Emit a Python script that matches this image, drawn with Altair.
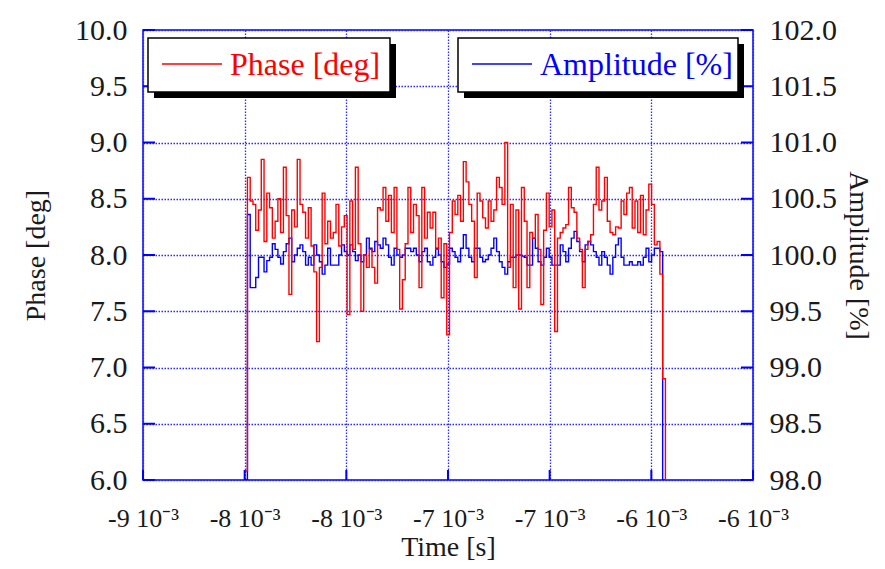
import altair as alt
import pandas as pd

# ---- data ----
phase = [
    6.08, 8.69, 8.48, 8.45, 8.22, 8.40, 8.85, 8.12, 8.55, 8.42,
    8.15, 8.30, 8.50, 8.20, 8.78, 8.35, 7.65, 8.40, 8.25, 8.85,
    8.45, 8.38, 8.15, 8.42, 8.08, 7.85, 7.23, 7.89, 8.55, 8.10,
    8.30, 8.15, 8.20, 8.45, 8.08, 8.25, 8.35, 7.47, 8.48, 8.05,
    8.78, 8.10, 7.50, 8.00, 7.89, 8.05, 7.89, 7.75, 8.42, 8.40,
    8.60, 8.30, 8.53, 8.20, 8.60, 8.05, 7.52, 7.78, 8.10, 8.60,
    8.20, 8.45, 8.35, 7.71, 8.60, 8.15, 8.38, 8.24, 8.38, 8.05,
    8.15, 7.62, 8.10, 7.29, 8.20, 8.48, 8.36, 8.53, 8.30, 8.83,
    8.65, 8.45, 8.30, 7.80, 8.55, 8.48, 8.33, 8.24, 8.48, 8.30,
    8.40, 8.69, 8.60, 8.45, 9.00, 7.89, 8.45, 7.71, 8.40, 7.52,
    8.60, 8.30, 7.71, 8.20, 8.15, 8.36, 8.05, 7.56, 8.22, 8.55,
    8.25, 8.40, 7.32, 8.15, 8.20, 8.24, 8.27, 8.60, 8.42, 8.38,
    8.15, 8.05, 7.71, 8.05, 8.12, 8.18, 8.45, 8.78, 8.40, 8.48,
    8.69, 8.30, 8.20, 8.18, 8.25, 8.24, 8.48, 8.36, 8.55, 8.60,
    8.24, 8.48, 8.20, 8.53, 8.18, 8.40, 8.63, 8.45, 8.09, 8.12,
    7.83, 6.90, 6.00,
]
amplitude = [
    98.00, 100.36, 99.71, 99.71, 99.80, 99.98, 99.98, 99.85, 99.95, 99.98,
    100.10, 100.05, 99.98, 99.92, 100.03, 100.10, 100.15, 99.94, 100.00, 100.06,
    100.09, 100.03, 99.91, 99.98, 99.91, 100.09, 100.00, 99.94, 99.83, 99.91,
    100.06, 99.91, 99.91, 99.91, 100.00, 100.09, 100.03, 100.00, 100.09, 100.03,
    99.95, 100.00, 99.94, 100.00, 100.15, 100.06, 100.03, 100.12, 100.09, 100.06,
    100.15, 100.09, 99.98, 99.91, 100.06, 100.00, 99.98, 100.00, 100.06, 100.06,
    100.03, 100.06, 100.00, 99.94, 100.03, 100.06, 99.94, 99.91, 99.98, 100.06,
    100.00, 99.94, 99.89, 99.92, 100.06, 100.03, 99.98, 99.94, 100.06, 100.18,
    100.06, 99.98, 99.94, 100.06, 100.06, 99.98, 99.94, 99.96, 100.00, 100.06,
    100.15, 100.03, 99.94, 99.89, 99.83, 99.94, 99.98, 99.98, 100.00, 100.00,
    99.99, 99.98, 99.91, 99.91, 100.15, 100.06, 99.94, 99.91, 99.98, 100.06,
    99.98, 99.91, 99.91, 99.91, 100.09, 100.03, 99.94, 100.06, 100.15, 100.21,
    100.12, 100.03, 99.94, 100.09, 100.12, 100.09, 100.03, 99.98, 99.91, 100.03,
    99.98, 99.91, 99.83, 99.98, 100.09, 100.15, 99.98, 99.91, 99.91, 99.94,
    99.91, 99.91, 99.94, 99.91, 99.98, 100.06, 99.94, 100.00, 100.06, 100.06,
    100.03, 98.00, 98.00,
]
t_start = -8.5e-3
t_step = 1.3614e-5
time = [t_start + i * t_step for i in range(len(phase))]

x_ticks = [-9e-3, -8.5e-3, -8e-3, -7.5e-3, -7e-3, -6.5e-3, -6e-3]
x_tick_labels = ["-9 10⁻³", "-8 10⁻³", "-8 10⁻³", "-7 10⁻³", "-7 10⁻³", "-6 10⁻³", "-6 10⁻³"]
phase_ticks = [6.0, 6.5, 7.0, 7.5, 8.0, 8.5, 9.0, 9.5, 10.0]
amp_ticks = [98.0, 98.5, 99.0, 99.5, 100.0, 100.5, 101.0, 101.5, 102.0]

df = pd.DataFrame({"time": time, "phase": phase, "amplitude": amplitude})

W, H = 610, 450
FONT = "Liberation Serif"
BLUE = "#0000ff"
GRID = "#2a2aff"
RED = "#ff0000"
TXT = "#1a1a1a"

label_expr = ("[" + ",".join(f"'{s}'" for s in x_tick_labels) +
              "][round((datum.value + 0.009) / 0.0005)]")

x_scale = alt.Scale(domain=[-9e-3, -6e-3], nice=False, zero=False)
p_scale = alt.Scale(domain=[6, 10], nice=False, zero=False)
a_scale = alt.Scale(domain=[98, 102], nice=False, zero=False)

x_axis = alt.Axis(values=x_ticks, labelExpr=label_expr, title="Time [s]",
                  grid=True, labelPadding=25, titlePadding=2, labelOverlap=False,
                  labelFontSize=26, labelFlush=False)
p_axis = alt.Axis(values=phase_ticks, format=".1f", title="Phase [deg]", orient="left",
                  grid=True, labelPadding=16, titlePadding=24)

phase_line = alt.Chart(df).mark_line(color=RED, strokeWidth=1.4, interpolate="step-after", clip=True).encode(
    x=alt.X("time:Q", scale=x_scale, axis=x_axis),
    y=alt.Y("phase:Q", scale=p_scale, axis=p_axis),
)

amp_line = alt.Chart(df).mark_line(color=BLUE, strokeWidth=1.4, interpolate="step-after", clip=True).encode(
    x=alt.X("time:Q", scale=x_scale, axis=x_axis),
    y=alt.Y("amplitude:Q", scale=a_scale,
            axis=alt.Axis(values=amp_ticks, format=".1f", title="Amplitude [%]", orient="right",
                          grid=False, labelPadding=16, titlePadding=7)),
)

ytick_df = pd.DataFrame({"phase": phase_ticks})
xtick_df = pd.DataFrame({"time": x_ticks})

left_ticks = alt.Chart(ytick_df).mark_rule(color=BLUE, strokeWidth=2).encode(
    y=alt.Y("phase:Q", scale=p_scale, axis=p_axis), x=alt.value(0), x2=alt.value(12))
right_ticks = alt.Chart(ytick_df).mark_rule(color=BLUE, strokeWidth=2).encode(
    y=alt.Y("phase:Q", scale=p_scale, axis=p_axis), x=alt.value(W - 12), x2=alt.value(W))
bottom_ticks = alt.Chart(xtick_df).mark_rule(color=BLUE, strokeWidth=2).encode(
    x=alt.X("time:Q", scale=x_scale, axis=x_axis), y=alt.value(H - 10), y2=alt.value(H))

one = pd.DataFrame({"k": [0]})


def legend_box(x0, x1, label, color):
    shadow = alt.Chart(one).mark_rect(color="black").encode(
        x=alt.value(x0 + 6), x2=alt.value(x1 + 6), y=alt.value(14), y2=alt.value(68))
    box = alt.Chart(one).mark_rect(fill="white", stroke="black", strokeWidth=1.5).encode(
        x=alt.value(x0), x2=alt.value(x1), y=alt.value(8), y2=alt.value(62))
    sample = alt.Chart(one).mark_rule(color=color, strokeWidth=1.3).encode(
        x=alt.value(x0 + 14), x2=alt.value(x0 + 74), y=alt.value(34))
    text = alt.Chart(one).mark_text(text=label, font=FONT, fontSize=32, color=color,
                                    align="left", baseline="middle").encode(
        x=alt.value(x0 + 82), y=alt.value(35))
    return [shadow, box, sample, text]


legend_layers = legend_box(5, 247, "Phase [deg]", RED) + legend_box(315, 595, "Amplitude [%]", BLUE)

left_group = alt.layer(phase_line, left_ticks, right_ticks, bottom_ticks)

chart = alt.layer(amp_line, left_group, *legend_layers).resolve_scale(y="independent").properties(
    width=W, height=H,
    autosize=alt.AutoSizeParams(type="none"),
    padding={"left": 135, "top": 22, "right": 124, "bottom": 81},
).configure_view(
    stroke=BLUE, strokeWidth=1.5
).configure_axis(
    labelFont=FONT, titleFont=FONT, labelFontSize=30, titleFontSize=28,
    labelColor=TXT, titleColor=TXT, titleFontWeight="normal",
    gridColor=GRID, gridDash=[1.5, 1.5], gridWidth=1.3, gridOpacity=1,
    domain=False, ticks=False,
)

chart.save("out.html", embed_options={"renderer": "svg", "actions": False})
